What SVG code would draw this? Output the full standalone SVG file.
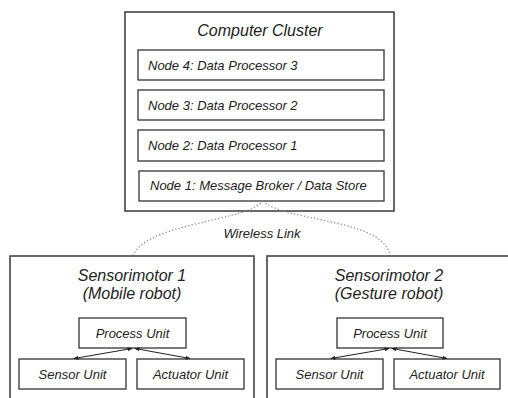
<svg xmlns="http://www.w3.org/2000/svg" width="508" height="398" viewBox="0 0 508 398">
  <style>
    .frame { fill: #ffffff; stroke: #444444; stroke-width: 1.6; }
    .box { fill: #ffffff; stroke: #333333; stroke-width: 1.3; }
    .title { font-family: "Liberation Sans", Arial, sans-serif; font-style: italic; font-size: 16px; fill: #222222; text-anchor: middle; }
    .label { font-family: "Liberation Sans", Arial, sans-serif; font-style: italic; font-size: 13px; fill: #222222; }
    .mid { text-anchor: middle; }
    .link { fill: none; stroke: #888888; stroke-width: 1.3; stroke-dasharray: 1.2 2.2; }
    .arrow { fill: none; stroke: #222222; stroke-width: 1; marker-start: url(#head); marker-end: url(#head); }
  </style>
  <defs>
    <marker id="head" viewBox="0 0 10 10" refX="9" refY="5" markerWidth="5" markerHeight="5" orient="auto-start-reverse" markerUnits="userSpaceOnUse">
      <path d="M0,1 L10,5 L0,9 Z" fill="#222222"/>
    </marker>
  </defs>
  <rect width="508" height="398" fill="#ffffff"/>

  <!-- computer cluster -->
  <g id="cluster">
    <rect class="frame" x="125" y="12" width="269" height="199"/>
    <text class="title" x="260" y="36">Computer Cluster</text>
  </g>
  <g id="node4">
    <rect class="box" x="138" y="50" width="246" height="30"/>
    <text class="label" x="148" y="69.5">Node 4: Data Processor 3</text>
  </g>
  <g id="node3">
    <rect class="box" x="138" y="90" width="246" height="30"/>
    <text class="label" x="148" y="109.5">Node 3: Data Processor 2</text>
  </g>
  <g id="node2">
    <rect class="box" x="138" y="130" width="246" height="31"/>
    <text class="label" x="148" y="149.5">Node 2: Data Processor 1</text>
  </g>
  <g id="node1">
    <rect class="box" x="139" y="171" width="245" height="30"/>
    <text class="label" x="150" y="189.5">Node 1: Message Broker / Data Store</text>
  </g>

  <!-- sensorimotor 1 -->
  <g id="sensorimotor1">
    <rect class="frame" x="10" y="256" width="244" height="160"/>
    <text class="title" x="132" y="281">Sensorimotor 1</text>
    <text class="title" x="132" y="299">(Mobile robot)</text>
  </g>
  <g id="process1">
    <rect class="box" x="79" y="318" width="107" height="30"/>
    <text class="label mid" x="132.5" y="338">Process Unit</text>
  </g>
  <g id="sensor1">
    <rect class="box" x="19" y="359" width="107" height="30"/>
    <text class="label mid" x="72.5" y="379">Sensor Unit</text>
  </g>
  <g id="actuator1">
    <rect class="box" x="137" y="359" width="107" height="30"/>
    <text class="label mid" x="190.5" y="379">Actuator Unit</text>
  </g>

  <!-- sensorimotor 2 -->
  <g id="sensorimotor2">
    <rect class="frame" x="267" y="256" width="244" height="160"/>
    <text class="title" x="389" y="281">Sensorimotor 2</text>
    <text class="title" x="389" y="299">(Gesture robot)</text>
  </g>
  <g id="process2">
    <rect class="box" x="337" y="318" width="106" height="30"/>
    <text class="label mid" x="390" y="338">Process Unit</text>
  </g>
  <g id="sensor2">
    <rect class="box" x="276" y="359" width="107" height="30"/>
    <text class="label mid" x="329.5" y="379">Sensor Unit</text>
  </g>
  <g id="actuator2">
    <rect class="box" x="394" y="359" width="106" height="30"/>
    <text class="label mid" x="447" y="379">Actuator Unit</text>
  </g>

  <!-- connectors -->
  <g id="connectors">
    <path class="link" d="M263,201 C245,222 150,222 133,255"/>
    <path class="link" d="M263,201 C285,222 382,218 390,255"/>
    <text class="label mid" x="262" y="238">Wireless Link</text>
    <line class="arrow" x1="132" y1="348.5" x2="74" y2="358.5"/>
    <line class="arrow" x1="135" y1="348.5" x2="190" y2="358.5"/>
    <line class="arrow" x1="389" y1="348.5" x2="331" y2="358.5"/>
    <line class="arrow" x1="392" y1="348.5" x2="447" y2="358.5"/>
  </g>
</svg>
